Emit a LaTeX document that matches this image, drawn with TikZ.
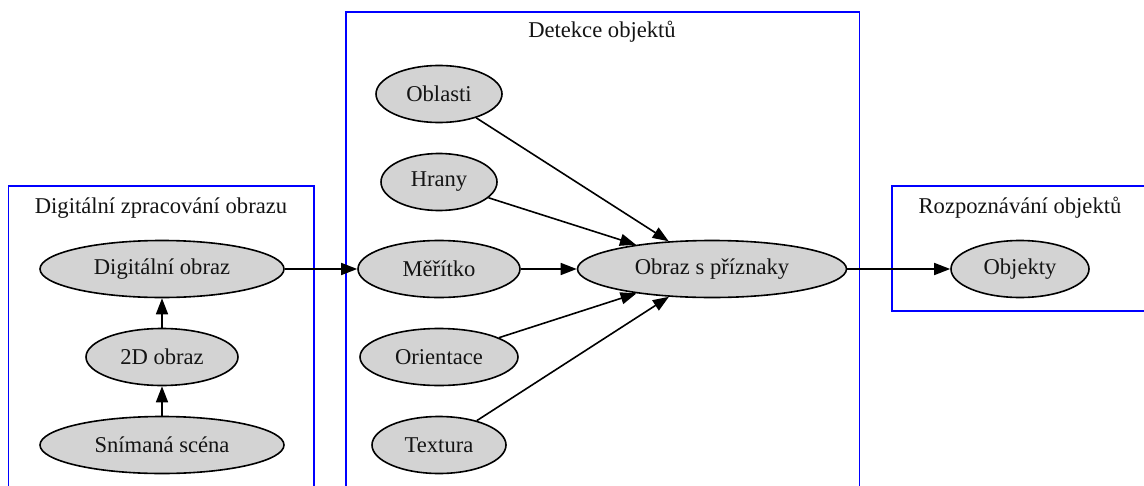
\documentclass[tikz,border=0pt]{standalone}
\usepackage{fontspec}
\setmainfont{Liberation Serif}
\usetikzlibrary{arrows.meta,shapes.geometric}
\begin{document}
\begin{tikzpicture}[x=1pt,y=-1pt,
  gnode/.style={ellipse,draw=black,fill={rgb,255:red,211;green,211;blue,211},line width=1.6pt,
    minimum height=57pt,inner sep=0pt,font=\fontsize{22.6}{26}\selectfont,text={rgb,255:red,20;green,20;blue,20}},
  cluster/.style={draw={rgb,255:red,0;green,0;blue,255},line width=1.6pt},
  ctitle/.style={font=\fontsize{22.6}{26}\selectfont,text={rgb,255:red,20;green,20;blue,20},inner sep=0pt},
  edge/.style={line width=1.6pt,-{Triangle[length=16pt,width=12pt]}}]
\clip (0,0) rectangle (1144,485);
\fill[white] (0,0) rectangle (1144,485);
% clusters
\draw[cluster] (8.5,500) |- (314,186) -- (314,500);
\draw[cluster] (346,500) |- (859.5,12) -- (859.5,500);
\draw[cluster] (1160,186) -| (892,311) -- (1160,311);
\node[ctitle] (t1) at (161,208) {Digitální zpracování obrazu};
\node[ctitle] (t2) at (602,32) {Detekce objektů};
\node[ctitle] (t3) at (1020,208) {Rozpoznávání objektů};
% nodes
\node[gnode,minimum width=244pt] (dig) at (162,269) {Digitální obraz};
\node[gnode,minimum width=152pt] (o2d) at (162,357) {2D obraz};
\node[gnode,minimum width=244pt] (sc) at (162,445) {Snímaná scéna};
\node[gnode,minimum width=126pt] (obl) at (439,94) {Oblasti};
\node[gnode,minimum width=116pt] (hr) at (439,182) {Hrany};
\node[gnode,minimum width=162pt] (mer) at (439,269) {Měřítko};
\node[gnode,minimum width=158pt] (ori) at (439,357) {Orientace};
\node[gnode,minimum width=134pt] (tex) at (439,445) {Textura};
\node[gnode,minimum width=269pt] (obr) at (712,269) {Obraz s příznaky};
\node[gnode,minimum width=138pt] (obj) at (1020,269) {Objekty};
% edges
\draw[edge] (sc) -- (o2d);
\draw[edge] (o2d) -- (dig);
\draw[edge] (dig) -- (mer);
\draw[edge] (obl) -- (obr);
\draw[edge] (hr) -- (obr);
\draw[edge] (mer) -- (obr);
\draw[edge] (ori) -- (obr);
\draw[edge] (tex) -- (obr);
\draw[edge] (obr) -- (obj);
\end{tikzpicture}
\end{document}
